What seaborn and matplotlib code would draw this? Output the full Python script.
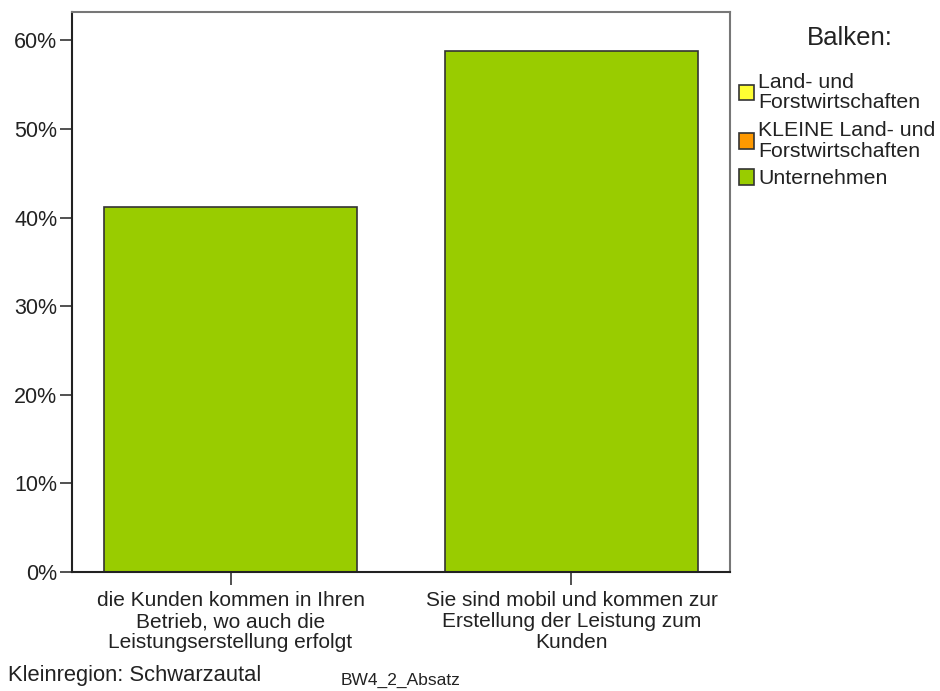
import matplotlib
matplotlib.use("Agg")
import matplotlib.pyplot as plt
from matplotlib.patches import Patch
from matplotlib.ticker import PercentFormatter, MultipleLocator
import pandas as pd
import seaborn as sns

# data
categories = ["die Kunden kommen in Ihren\nBetrieb, wo auch die\nLeistungserstellung erfolgt",
              "Sie sind mobil und kommen zur\nErstellung der Leistung zum\nKunden"]
percent = [41.2, 58.8]
legend_labels = ["Land- und\nForstwirtschaften", "KLEINE Land- und\nForstwirtschaften", "Unternehmen"]
legend_colors = ["#FFFF33", "#FF9900", "#99CC00"]

sns.set_style("white")
plt.rcParams["font.family"] = ["Liberation Sans", "DejaVu Sans"]
plt.rcParams["font.size"] = 15

df = pd.DataFrame({"kategorie": categories, "prozent": percent})

fig = plt.figure(figsize=(9.4, 6.91), dpi=100)
ax = fig.add_axes([0.0766, 0.1722, 0.70, 0.8104])

sns.barplot(data=df, x="kategorie", y="prozent", color="#99CC00",
            edgecolor="#333333", linewidth=1.2, width=0.74, saturation=1, ax=ax)

ax.set_xlim(-0.465, 1.465)
ax.set_ylim(0, 63.2)
ax.yaxis.set_major_locator(MultipleLocator(10))
ax.yaxis.set_major_formatter(PercentFormatter(xmax=100, decimals=0))
ax.set_xlabel("")
ax.set_ylabel("")

for s in ["left", "bottom"]:
    ax.spines[s].set_color("#222222")
    ax.spines[s].set_linewidth(1.5)
for s in ["top", "right"]:
    ax.spines[s].set_color("#777777")
    ax.spines[s].set_linewidth(1.5)
ax.tick_params(axis="both", direction="out", length=9, width=1.2, color="#333333",
               labelcolor="#222222", left=True, bottom=True)
ax.tick_params(axis="y", labelsize=15.5, pad=1.5)
ax.tick_params(axis="x", labelsize=15, pad=4.5)
for t in ax.get_xticklabels():
    t.set_linespacing(1.15)

handles = [Patch(facecolor=c, edgecolor="#333333", linewidth=1.2) for c in legend_colors]
leg = fig.legend(handles, legend_labels, loc="upper left",
                 bbox_to_anchor=(0.786, 0.894), frameon=False, fontsize=15.3,
                 handlelength=0.72, handleheight=0.72,
                 handletextpad=0.2, labelspacing=0.42, borderpad=0, borderaxespad=0)
for t in leg.get_texts():
    t.set_color("#222222")
    t.set_linespacing(1.08)

fig.text(850 / 940, 1 - 38 / 691, "Balken:", fontsize=18.5, color="#222222",
         ha="center", va="center")

fig.text(0.009, 1 - 676 / 691, "Kleinregion: Schwarzautal", fontsize=15.8,
         color="#222222", va="center")
fig.text(0.362, 1 - 680 / 691, "BW4_2_Absatz", fontsize=12.5, color="#222222",
         va="center")

fig.savefig("out.png", dpi=100)
